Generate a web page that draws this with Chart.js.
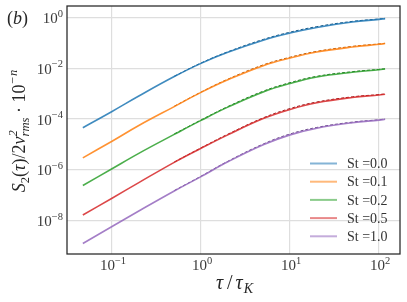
<!DOCTYPE html>
<html>
<head>
<meta charset="utf-8">
<script src="https://cdn.jsdelivr.net/npm/chart.js@4.4.1/dist/chart.umd.min.js"></script>
<style>
  html, body { margin: 0; padding: 0; background: #fff; }
</style>
</head>
<body>
<canvas id="chart" width="407" height="302"></canvas>
<script>
// tau / tau_K sample points
const tau = [0.047, 0.1, 0.2, 0.5, 1, 2, 5, 10, 20, 50, 100, 117];

// S2(tau)/2v_rms^2 * 10^-n
const st00 = [4.6e-5, 2.0e-4, 8.1e-4, 4.7e-3, 1.55e-2, 4.2e-2, 0.126, 0.24, 0.40, 0.65, 0.83, 0.89];
const st01 = [3.0e-6, 1.35e-5, 5.6e-5, 3.1e-4, 1.12e-3, 3.5e-3, 1.26e-2, 2.5e-2, 4.3e-2, 6.8e-2, 8.7e-2, 9.3e-2];
const st02 = [2.45e-7, 1.12e-6, 4.5e-6, 2.5e-5, 8.9e-5, 2.95e-4, 1.17e-3, 2.5e-3, 4.5e-3, 6.9e-3, 8.7e-3, 9.3e-3];
const st05 = [1.7e-8, 7.8e-8, 3.2e-7, 2.0e-6, 7.1e-6, 2.4e-5, 1.05e-4, 2.4e-4, 4.4e-4, 7.1e-4, 8.9e-4, 9.5e-4];
const st10 = [1.3e-9, 6.0e-9, 2.45e-8, 1.5e-7, 5.5e-7, 2.1e-6, 9.8e-6, 2.4e-5, 4.4e-5, 7.2e-5, 9.1e-5, 9.8e-5];

// model curves (dashed), large tau part
const tauModel = [0.5, 1, 2, 5, 10, 20, 50, 100, 117];
const model00 = [4.8e-3, 1.6e-2, 4.4e-2, 0.135, 0.26, 0.43, 0.69, 0.86, 0.91];
const model01 = [3.2e-4, 1.15e-3, 3.7e-3, 1.35e-2, 2.7e-2, 4.6e-2, 7.2e-2, 9.0e-2, 9.5e-2];
const model02 = [2.6e-5, 9.2e-5, 3.1e-4, 1.25e-3, 2.7e-3, 4.8e-3, 7.3e-3, 9.0e-3, 9.5e-3];
const model05 = [2.05e-6, 7.4e-6, 2.55e-5, 1.12e-4, 2.6e-4, 4.7e-4, 7.5e-4, 9.2e-4, 9.7e-4];
const model10 = [1.55e-7, 5.7e-7, 2.2e-6, 1.05e-5, 2.6e-5, 4.7e-5, 7.6e-5, 9.4e-5, 1.0e-4];

const stLabels = ['St =0.0', 'St =0.1', 'St =0.2', 'St =0.5', 'St =1.0'];
const colors = ['#1f77b4', '#ff7f0e', '#2ca02c', '#d62728', '#9467bd'];
const darkColors = ['#16537e', '#b2580a', '#1f701f', '#961c1c', '#674884'];

const xTicks = [0.1, 1, 10, 100];
const yTicks = [1, 1e-2, 1e-4, 1e-6, 1e-8];

const SERIF = '"Liberation Serif", "DejaVu Serif", serif';

function fade(hex, a) {
  const n = parseInt(hex.slice(1), 16);
  return `rgba(${(n >> 16) & 255}, ${(n >> 8) & 255}, ${n & 255}, ${a})`;
}

const measured = [st00, st01, st02, st05, st10];
const model = [model00, model01, model02, model05, model10];

const datasets = [];
measured.forEach((vals, i) => {
  datasets.push({
    label: stLabels[i],
    data: tau.map((t, k) => ({ x: t, y: vals[k] })),
    borderColor: fade(colors[i], 0.85),
    borderWidth: 1.6,
    pointRadius: 0,
    tension: 0.4,
    fill: false
  });
});
model.forEach((vals, i) => {
  datasets.push({
    label: stLabels[i] + ' model',
    data: tauModel.map((t, k) => ({ x: t, y: vals[k] })),
    borderColor: darkColors[i],
    borderWidth: 1,
    borderDash: [3, 2],
    pointRadius: 0,
    tension: 0.4,
    fill: false
  });
});

// draw a run of text pieces: [text, italic, kind] kind: '' | 'sup' | 'sub' | 'stack' ([sup, sub])
function pieceFont(size, italic) {
  return (italic ? 'italic ' : '') + size + 'px ' + SERIF;
}
function pieceWidth(ctx, p, size) {
  const small = size * 0.7;
  if (Array.isArray(p[0])) {
    ctx.font = pieceFont(small, p[1]);
    return Math.max(ctx.measureText(p[0][0]).width, ctx.measureText(p[0][1]).width);
  }
  ctx.font = pieceFont(p[2] ? small : size, p[1]);
  return ctx.measureText(p[0]).width + (p[3] || 0);
}
function drawRich(ctx, parts, x, y, size, align) {
  const total = parts.reduce((s, p) => s + pieceWidth(ctx, p, size), 0);
  let cx = align === 'center' ? x - total / 2 : align === 'right' ? x - total : x;
  ctx.textAlign = 'left';
  ctx.textBaseline = 'alphabetic';
  const small = size * 0.7;
  parts.forEach(p => {
    const w = pieceWidth(ctx, p, size);
    if (Array.isArray(p[0])) {
      ctx.font = pieceFont(small, p[1]);
      ctx.fillText(p[0][0], cx, y - size * 0.42);
      ctx.fillText(p[0][1], cx, y + size * 0.22);
    } else if (p[2] === 'sup') {
      ctx.font = pieceFont(small, p[1]);
      ctx.fillText(p[0], cx, y - size * 0.42);
    } else if (p[2] === 'sub') {
      ctx.font = pieceFont(small, p[1]);
      ctx.fillText(p[0], cx, y + size * 0.22);
    } else {
      ctx.font = pieceFont(size, p[1]);
      ctx.fillText(p[0], cx + (p[3] || 0) / 2, y);
    }
    cx += w;
  });
}

function powLabel(v) {
  const e = Math.round(Math.log10(v));
  return [['10', false, ''], [(e < 0 ? '\u2212' : '') + Math.abs(e), false, 'sup']];
}

const decorations = {
  id: 'decorations',
  afterDraw(chart) {
    const ctx = chart.ctx;
    const area = chart.chartArea;
    const xs = chart.scales.x;
    const ys = chart.scales.y;
    ctx.save();

    // frame
    ctx.strokeStyle = '#262626';
    ctx.lineWidth = 1.25;
    ctx.strokeRect(area.left, area.top, area.right - area.left, area.bottom - area.top);

    // tick labels
    ctx.fillStyle = '#3a3a3a';
    xTicks.forEach(v => {
      drawRich(ctx, powLabel(v), xs.getPixelForValue(v) + 1, area.bottom + 16, 15, 'center');
    });
    yTicks.forEach(v => {
      drawRich(ctx, powLabel(v), area.left - 4, ys.getPixelForValue(v) + 5.5, 15, 'right');
    });

    // axis titles
    ctx.fillStyle = '#262626';
    drawRich(ctx, [['\u03c4', true, '', 4], ['/', false, '', 4], ['\u03c4', true, '', 2], ['K', true, 'sub']],
      (area.left + area.right) / 2, 289, 20, 'center');

    ctx.save();
    ctx.translate(25, (area.top + area.bottom) / 2 + 1);
    ctx.rotate(-Math.PI / 2);
    drawRich(ctx, [
      ['S', true, ''], ['2', false, 'sub'], ['(', false, ''], ['\u03c4', true, ''], [')/2', false, ''],
      ['v', true, ''], [['2', 'rms'], true, 'stack'], [' \u00b7 10', false, ''], ['\u2212n', true, 'sup']
    ], 0, 0, 18, 'center');
    ctx.restore();

    // panel tag
    drawRich(ctx, [['(', false, ''], ['b', true, ''], [')', false, '']], 7, 24, 18, 'left');

    // legend
    stLabels.forEach((lab, i) => {
      const y = 163.5 + i * 18.2;
      ctx.strokeStyle = fade(colors[i], 0.55);
      ctx.lineWidth = 2;
      ctx.beginPath();
      ctx.moveTo(310, y);
      ctx.lineTo(337, y);
      ctx.stroke();
      ctx.fillStyle = '#333';
      ctx.font = '14px ' + SERIF;
      ctx.textAlign = 'left';
      ctx.textBaseline = 'middle';
      ctx.fillText(lab, 347, y + 1);
    });
    ctx.restore();
  }
};

new Chart(document.getElementById('chart'), {
  type: 'line',
  data: { datasets: datasets },
  options: {
    responsive: false,
    animation: false,
    devicePixelRatio: 1,
    layout: { padding: { left: 67, right: 7, top: 6, bottom: 48 } },
    plugins: { legend: { display: false }, tooltip: { enabled: false } },
    scales: {
      x: {
        type: 'logarithmic',
        min: 0.0312,
        max: 172,
        afterBuildTicks: s => { s.ticks = xTicks.map(v => ({ value: v })); },
        ticks: { display: false },
        grid: { color: '#dedede', lineWidth: 1.2, drawTicks: false },
        border: { display: false }
      },
      y: {
        type: 'logarithmic',
        min: 5.0e-10,
        max: 2.78,
        afterBuildTicks: s => { s.ticks = yTicks.map(v => ({ value: v })); },
        ticks: { display: false },
        grid: { color: '#dedede', lineWidth: 1.2, drawTicks: false },
        border: { display: false }
      }
    }
  },
  plugins: [decorations]
});
</script>
</body>
</html>
